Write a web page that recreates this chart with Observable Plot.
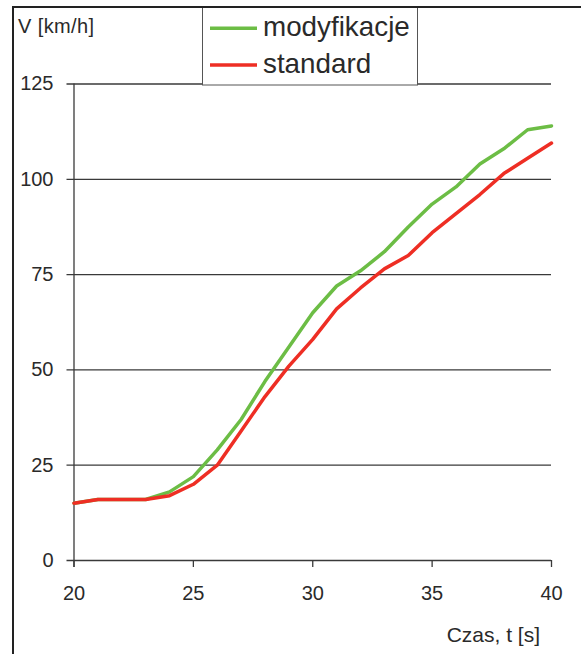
<!DOCTYPE html>
<html><head><meta charset="utf-8">
<script src="https://cdn.jsdelivr.net/npm/d3@7"></script>
<script src="https://cdn.jsdelivr.net/npm/@observablehq/plot@0.6"></script>
<style>body{margin:0;background:#fff} svg{display:block}</style>
</head><body><div id="chart"></div>
<script>
const time = [20,21,22,23,24,25,26,27,28,29,30,31,32,33,34,35,36,37,38,39,40];
const modyfikacje = [15,16,16,16,18,22,29,37,47,56,65,72,76,81,87.5,93.5,98,104,108,113,114];
const standard = [15,16,16,16,17,20,25,34,43,51,58,66,71.5,76.5,80,86,91,96,101.5,105.5,109.5];
const xTicks = [20,25,30,35,40];
const yTicks = [0,25,50,75,100,125];
const seriesNames = ["modyfikacje","standard"];
const seriesColors = ["#6cbd45","#ee2e24"];
const yLabel = "V [km/h]";
const xLabel = "Czas, t [s]";

const rowsG = time.map((t,i)=>({t, v: modyfikacje[i]}));
const rowsR = time.map((t,i)=>({t, v: standard[i]}));
const font = "'Liberation Sans', Arial, sans-serif";
const ink = "#2a2a2a";

const plot = Plot.plot({
  width:581, height:654,
  marginLeft:73.5, marginRight:30, marginTop:83.5, marginBottom:94,
  style:{fontFamily:font, fontSize:"20px", color:ink, background:"#fff"},
  x:{domain:[20,40]}, y:{domain:[0,125]},
  marks:[
    Plot.ruleY(yTicks, {stroke:"#3a3a3a", strokeWidth:1.3, insetLeft:-7}),
    Plot.ruleX([20], {stroke:"#3a3a3a", strokeWidth:1.3, insetBottom:-7}),
    Plot.axisY(yTicks, {tickSize:0, tickPadding:20.5, label:null, fontSize:20, fill:ink}),
    Plot.axisX(xTicks, {tickSize:7, tickPadding:18, label:null, fontSize:20, fill:ink, stroke:"#3a3a3a", strokeWidth:1.3}),
    Plot.line(rowsG, {x:"t", y:"v", stroke:seriesColors[0], strokeWidth:3.5}),
    Plot.line(rowsR, {x:"t", y:"v", stroke:seriesColors[1], strokeWidth:3.5})
  ]
});
document.getElementById("chart").append(plot);

const svg = d3.select(plot);
// y label
svg.append("text").attr("x",18).attr("y",33.3).attr("font-size",20).attr("letter-spacing",0.4)
  .attr("fill",ink).attr("text-anchor","start").attr("font-family",font).text(yLabel);
// x label
svg.append("text").attr("x",540).attr("y",641.5).attr("text-anchor","end").attr("font-size",21)
  .attr("fill",ink).attr("font-family",font).text(xLabel);
// legend
const lg = svg.append("g").attr("text-anchor","start");
lg.append("rect").attr("x",202.5).attr("y",7.5).attr("width",215).attr("height",77.5)
  .attr("fill","#fff").attr("stroke","#555").attr("stroke-width",1);
const baselines = [36, 73.3];
const swatchY = [28.3, 65];
seriesNames.forEach((name,i)=>{
  lg.append("line").attr("x1",210).attr("x2",257).attr("y1",swatchY[i]).attr("y2",swatchY[i])
    .attr("stroke",seriesColors[i]).attr("stroke-width",3.5);
  lg.append("text").attr("x",263).attr("y",baselines[i]).attr("font-size",27.8).attr("fill",ink)
    .attr("text-anchor","start").attr("font-family",font).text(name);
});
// outer frame (left and top edges)
svg.append("path").attr("d","M13,654V7H581").attr("fill","none").attr("stroke","#222").attr("stroke-width",2);
</script></body></html>
